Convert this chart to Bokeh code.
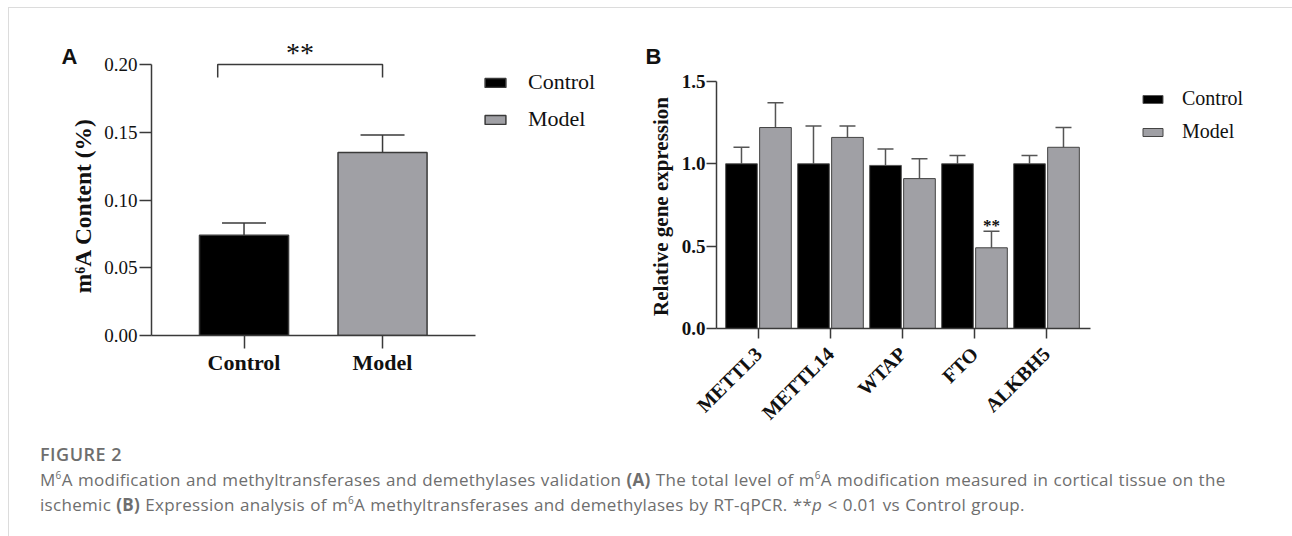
import math
from bokeh.plotting import figure
from bokeh.models import (Range1d, LinearAxis, FixedTicker, Whisker, TeeHead, Legend,
                          LegendItem, ColumnDataSource, Div, NumeralTickFormatter)
from bokeh.layouts import row, column
from bokeh.embed import file_html
from bokeh.resources import INLINE
from bokeh.core.properties import value

# ---------------- data ----------------
a_groups = ["Control", "Model"]
a_means = [0.074, 0.135]
a_err_top = [0.083, 0.148]
a_ticks = [0.00, 0.05, 0.10, 0.15, 0.20]
a_ylabel = "m\u2076A Content (%)"

b_genes = ["METTL3", "METTL14", "WTAP", "FTO", "ALKBH5"]
b_control = [1.00, 1.00, 0.99, 1.00, 1.00]
b_control_err = [1.10, 1.23, 1.09, 1.05, 1.05]
b_model = [1.22, 1.16, 0.91, 0.49, 1.10]
b_model_err = [1.37, 1.23, 1.03, 0.59, 1.22]
b_ticks = [0.0, 0.5, 1.0, 1.5]
b_sig = ["", "", "", "**", ""]
b_ylabel = "Relative gene expression"

series_names = ["Control", "Model"]
series_colors = ["#000000", "#a0a0a5"]

SERIF = "Liberation Serif"
SANS = "Liberation Sans"
AXC = "#3a3a3a"
H = 430


def style_axis(ax, tick_out, standoff, font_size, bold):
    ax.major_label_text_font = SERIF
    ax.major_label_text_font_style = "bold" if bold else "normal"
    ax.major_label_text_font_size = font_size
    ax.major_label_text_color = "#111"
    ax.major_label_standoff = standoff
    ax.major_tick_out = tick_out
    ax.major_tick_in = 0
    ax.minor_tick_out = 0
    ax.minor_tick_in = 0
    ax.axis_line_color = AXC
    ax.axis_line_width = 1.5
    ax.major_tick_line_color = AXC
    ax.major_tick_line_width = 1.5


def free_text(p, x, y, txt, font, size, bold=True, angle=0.0, align="left",
              baseline="alphabetic", yoff=0):
    r = p.text(x=[x], y=[y], text=[txt], text_font=value(font),
               text_font_style="bold" if bold else "normal", text_font_size=size,
               text_align=align, text_baseline=baseline, angle=angle,
               y_offset=yoff, text_color="#111")
    r.level = "overlay"
    return r


# ---------------- panel A ----------------
pA = figure(width=632, height=H, x_range=Range1d(-0.668, 2.718), y_range=Range1d(0, 0.2251),
            output_backend="svg", toolbar_location=None, x_axis_type=None, y_axis_type=None,
            min_border_left=142, min_border_right=21, min_border_top=22, min_border_bottom=H - 327)
pA.frame_align = False
pA.outline_line_color = None
pA.xgrid.visible = False
pA.ygrid.visible = False

ya = LinearAxis(bounds=(0, 0.2), ticker=FixedTicker(ticks=a_ticks),
                formatter=NumeralTickFormatter(format="0.00"))
style_axis(ya, 12, 2, "19px", False)
pA.add_layout(ya, "left")

xa = LinearAxis(bounds=(-0.668, 1.67), ticker=FixedTicker(ticks=[0, 1]),
                major_label_overrides={0: a_groups[0], 1: a_groups[1]})
style_axis(xa, 13, 1, "22px", True)
pA.add_layout(xa, "below")

srcA = ColumnDataSource(dict(x=[0, 1], top=a_means, err=a_err_top, color=series_colors))
pA.add_layout(Whisker(source=srcA, base="x", lower="top", upper="err",
                      upper_head=TeeHead(size=44, line_color=AXC, line_width=1.5),
                      lower_head=None, line_color=AXC, line_width=1.5))
rA = pA.vbar(x="x", top="top", bottom=0, width=0.643, source=srcA,
             fill_color="color", line_color=AXC, line_width=1.5)

# significance bracket
br_x0, br_x1, br_top, br_drop = -0.19, 1.0, 0.2, 0.0095
pA.line(x=[br_x0, br_x0, br_x1, br_x1], y=[br_top - br_drop, br_top, br_top, br_top - br_drop],
        line_color=AXC, line_width=1.5)
pA.text(x=[(br_x0 + br_x1) / 2], y=[br_top], text=["**"], text_font=value(SERIF),
        text_font_size="28px", text_align="center", text_baseline="alphabetic",
        y_offset=-12, text_color="#111")

legA = Legend(items=[LegendItem(label=series_names[i], renderers=[rA], index=i) for i in range(2)],
              location=(331, 203), glyph_width=26, glyph_height=11, label_standoff=20,
              label_height=24, spacing=11, padding=0, margin=0, border_line_color=None,
              background_fill_alpha=0, label_text_font=SERIF, label_text_font_size="22px",
              label_text_color="#111")
pA.add_layout(legA)

free_text(pA, -1.166, 0.0959, a_ylabel, SERIF, "23.5px", angle=math.pi / 2,
          align="center", baseline="middle")
free_text(pA, -1.318, 0.2015, "A", SANS, "22px", yoff=-6)

# ---------------- panel B ----------------
pB = figure(width=644, height=H, x_range=Range1d(-0.583, 7.111), y_range=Range1d(0, 1.809),
            output_backend="svg", toolbar_location=None, x_axis_type=None, y_axis_type=None,
            min_border_left=75, min_border_right=15, min_border_top=22, min_border_bottom=H - 320)
pB.frame_align = False
pB.outline_line_color = None
pB.xgrid.visible = False
pB.ygrid.visible = False

yb = LinearAxis(bounds=(0, 1.5), ticker=FixedTicker(ticks=b_ticks),
                formatter=NumeralTickFormatter(format="0.0"))
style_axis(yb, 10, 1, "19px", True)
pB.add_layout(yb, "left")

xb = LinearAxis(bounds=(-0.583, 4.611), ticker=FixedTicker(ticks=list(range(len(b_genes)))),
                major_label_overrides={i: g for i, g in enumerate(b_genes)})
style_axis(xb, 10, 12, "20px", True)
xb.major_label_orientation = math.pi / 4
pB.add_layout(xb, "below")

off = 0.236
bw = 0.44
idx = list(range(len(b_genes)))
srcBc = ColumnDataSource(dict(x=[i - off for i in idx], top=b_control, err=b_control_err))
srcBm = ColumnDataSource(dict(x=[i + off for i in idx], top=b_model, err=b_model_err, sig=b_sig))
for s in (srcBc, srcBm):
    pB.add_layout(Whisker(source=s, base="x", lower="top", upper="err",
                          upper_head=TeeHead(size=16, line_color="#555", line_width=1.5),
                          lower_head=None, line_color="#555", line_width=1.5))
rBc = pB.vbar(x="x", top="top", bottom=0, width=bw, source=srcBc,
              fill_color=series_colors[0], line_color="#555", line_width=1)
rBm = pB.vbar(x="x", top="top", bottom=0, width=bw, source=srcBm,
              fill_color=series_colors[1], line_color="#444", line_width=1)
pB.text(x="x", y="err", text="sig", source=srcBm, text_font=value(SERIF), text_font_style="bold",
        text_font_size="17px", text_align="center", text_baseline="alphabetic",
        y_offset=-6, text_color="#111")

legB = Legend(items=[LegendItem(label=series_names[0], renderers=[rBc]),
                     LegendItem(label=series_names[1], renderers=[rBm])],
              location=(424, 185), glyph_width=25, glyph_height=10, label_standoff=17,
              label_height=22, spacing=10, padding=0, margin=0, border_line_color=None,
              background_fill_alpha=0, label_text_font=SERIF, label_text_font_size="20px",
              label_text_color="#111")
pB.add_layout(legB)

free_text(pB, -1.347, 0.741, b_ylabel, SERIF, "21px", angle=math.pi / 2,
          align="center", baseline="middle")
free_text(pB, -1.569, 1.615, "B", SANS, "22px", yoff=-6)

# ---------------- caption ----------------
cap_html = (
    '<div style="font-family:\'Open Sans\',sans-serif;color:#6e6e6e;padding-left:26px;'
    'padding-top:0px;white-space:nowrap;">'
    '<div style="font-size:18px;font-weight:600;letter-spacing:0.5px;line-height:22px;">FIGURE 2</div>'
    '<div style="font-size:17px;letter-spacing:0.3px;word-spacing:0.5px;line-height:21px;">'
    'M<sup style="font-size:10px;">6</sup>A modification and methyltransferases and demethylases validation '
    '<b>(A)</b> The total level of m<sup style="font-size:10px;">6</sup>A modification measured in cortical tissue on the<br>'
    'ischemic <b>(B)</b> Expression analysis of m<sup style="font-size:10px;">6</sup>A methyltransferases and '
    'demethylases by RT-qPCR. **<i>p</i> &lt; 0.01 vs Control group.'
    '</div></div>'
)
cap = Div(text=cap_html, width=1276, height=90)

layout = column(row(pA, pB), cap, margin=(7, 0, 0, 8),
                styles={"border-top": "1px solid #dcdcdc", "border-left": "1px solid #dcdcdc"})

open("out.html", "w").write(file_html(layout, INLINE))
